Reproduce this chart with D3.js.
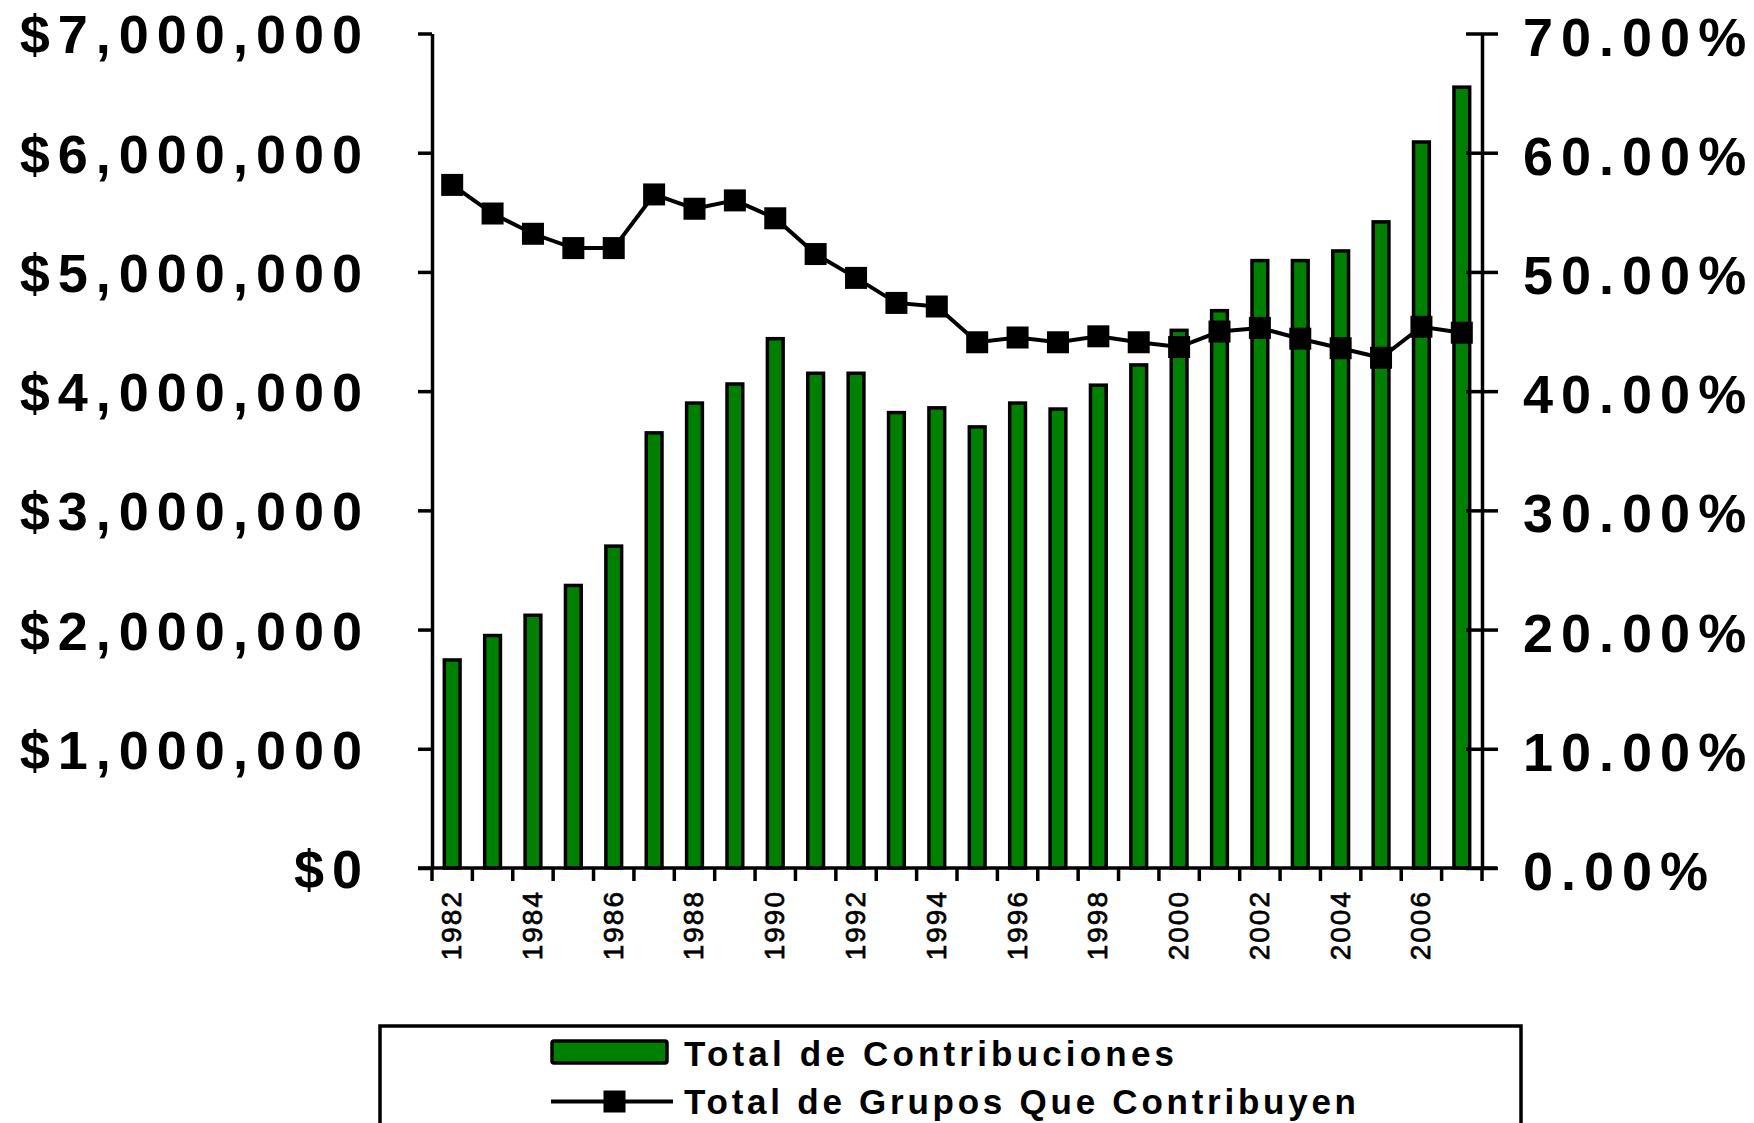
<!doctype html>
<html>
<head>
    <meta charset="utf-8">
    <script src="https://d3js.org/d3.v7.min.js"></script>
</head>
<style>
    body { margin: 0; background: #fff; }
    svg text { font-family: "Liberation Sans", Arial, sans-serif; fill: #000; }
    .big { font-size: 54px; font-weight: bold; letter-spacing: 8px; }
    .yr { font-size: 28px; letter-spacing: 2px; stroke: #000; stroke-width: 0.7px; }
    .leg { font-size: 35px; font-weight: bold; }
</style>
<body>
<script>
    // values
    var years = d3.range(1982, 2008);
    var contributions = [1745000, 1950000, 2120000, 2370000, 2700000, 3650000, 3900000, 4060000,
                         4440000, 4150000, 4150000, 3820000, 3860000, 3700000, 3900000, 3850000,
                         4050000, 4220000, 4510000, 4675000, 5095000, 5095000, 5176000, 5420000,
                         6090000, 6550000];
    var groupsPct = [57.3, 54.9, 53.2, 52.0, 52.0, 56.5, 55.3, 56.0, 54.5, 51.5, 49.5, 47.4, 47.1,
                     44.1, 44.5, 44.1, 44.6, 44.1, 43.7, 45.0, 45.3, 44.4, 43.6, 42.8, 45.4, 44.9];
    var leftTicks = [0, 1000000, 2000000, 3000000, 4000000, 5000000, 6000000, 7000000];
    var rightTicks = [0, 10, 20, 30, 40, 50, 60, 70];
    var yearLabels = years.filter(function(d) { return d % 2 === 0; });
    var seriesNames = ["Total de Contribuciones", "Total de Grupos Que Contribuyen"];

    var W = 1754, H = 1123;
    var plotL = 432, plotR = 1482, plotT = 33.5, plotB = 868;
    var green = "#008000";

    var svg = d3.select("body").append("svg")
        .attr("width", W)
        .attr("height", H);

    var x = d3.scaleBand().domain(years).range([plotL, plotR]);
    var yL = d3.scaleLinear().domain([0, 7000000]).range([plotB, plotT]);
    var yR = d3.scaleLinear().domain([0, 70]).range([plotB, plotT]);
    var barW = x.bandwidth() * 0.39;

    // bars
    svg.append("g").selectAll("rect")
        .data(contributions)
        .enter()
        .append("rect")
        .attr("x", function(d, i) { return x(years[i]) + x.bandwidth() / 2 - barW / 2; })
        .attr("y", function(d) { return yL(d); })
        .attr("width", barW)
        .attr("height", function(d) { return plotB - yL(d); })
        .attr("fill", green)
        .attr("stroke", "#000")
        .attr("stroke-width", 3.5);

    // left axis
    var gl = svg.append("g").attr("transform", "translate(" + plotL + ",0)")
        .call(d3.axisLeft(yL).tickValues(leftTicks).tickSize(14).tickSizeOuter(0).tickPadding(48)
            .tickFormat(function(d) { return "$" + d3.format(",")(d); }));
    gl.select(".domain").attr("stroke-width", 3.5);
    gl.selectAll(".tick line").attr("stroke-width", 3.5);
    gl.selectAll(".tick text").attr("class", "big").attr("font-family", null).attr("font-size", null)
        .attr("dy", "0.36em");

    // right axis
    var gr = svg.append("g").attr("transform", "translate(" + plotR + ",0)")
        .call(d3.axisRight(yR).tickValues(rightTicks).tickSize(16).tickSizeOuter(0).tickPadding(25)
            .tickFormat(function(d) { return d.toFixed(2) + "%"; }));
    gr.select(".domain").attr("stroke-width", 3.5);
    gr.selectAll(".tick line").attr("x1", -16).attr("stroke-width", 3.5);
    gr.selectAll(".tick text").attr("class", "big").attr("font-family", null).attr("font-size", null)
        .attr("dy", "0.4em");

    // x axis
    svg.append("line")
        .attr("x1", 418).attr("x2", 1497)
        .attr("y1", plotB).attr("y2", plotB)
        .attr("stroke", "#000").attr("stroke-width", 3.5);
    var bounds = years.map(function(d) { return x(d); }).concat([plotR]);
    svg.append("g").selectAll("line")
        .data(bounds)
        .enter()
        .append("line")
        .attr("x1", function(d) { return d; }).attr("x2", function(d) { return d; })
        .attr("y1", plotB).attr("y2", plotB + 13)
        .attr("stroke", "#000").attr("stroke-width", 3.5);

    svg.append("g").selectAll("text")
        .data(yearLabels)
        .enter()
        .append("text")
        .attr("class", "yr")
        .attr("transform", function(d) {
            return "translate(" + (x(d) + x.bandwidth() / 2) + ",890) rotate(-90)";
        })
        .attr("text-anchor", "end")
        .attr("dy", "0.32em")
        .text(function(d) { return d; });

    // line series
    var line = d3.line()
        .x(function(d, i) { return x(years[i]) + x.bandwidth() / 2; })
        .y(function(d) { return yR(d); });
    svg.append("path")
        .datum(groupsPct)
        .attr("d", line)
        .attr("fill", "none")
        .attr("stroke", "#000")
        .attr("stroke-width", 4);
    svg.append("g").selectAll("rect")
        .data(groupsPct)
        .enter()
        .append("rect")
        .attr("x", function(d, i) { return x(years[i]) + x.bandwidth() / 2 - 11; })
        .attr("y", function(d) { return yR(d) - 11; })
        .attr("width", 22).attr("height", 22)
        .attr("fill", "#000");

    // legend
    var lg = svg.append("g");
    lg.append("rect")
        .attr("x", 380).attr("y", 1026)
        .attr("width", 1141).attr("height", 160)
        .attr("fill", "#fff").attr("stroke", "#000").attr("stroke-width", 3.5);
    lg.append("rect")
        .attr("x", 552).attr("y", 1041)
        .attr("width", 115).attr("height", 22).attr("rx", 2)
        .attr("fill", green).attr("stroke", "#000").attr("stroke-width", 3.5);
    lg.append("line")
        .attr("x1", 551).attr("x2", 673).attr("y1", 1101.5).attr("y2", 1101.5)
        .attr("stroke", "#000").attr("stroke-width", 4);
    lg.append("rect")
        .attr("x", 603.5).attr("y", 1090.5).attr("width", 22).attr("height", 22)
        .attr("fill", "#000");
    lg.append("text").attr("class", "leg")
        .attr("x", 684).attr("y", 1066)
        .attr("textLength", 490).attr("lengthAdjust", "spacing")
        .text(seriesNames[0]);
    lg.append("text").attr("class", "leg")
        .attr("x", 684).attr("y", 1114)
        .attr("textLength", 672).attr("lengthAdjust", "spacing")
        .text(seriesNames[1]);
</script>
</body>
</html>
